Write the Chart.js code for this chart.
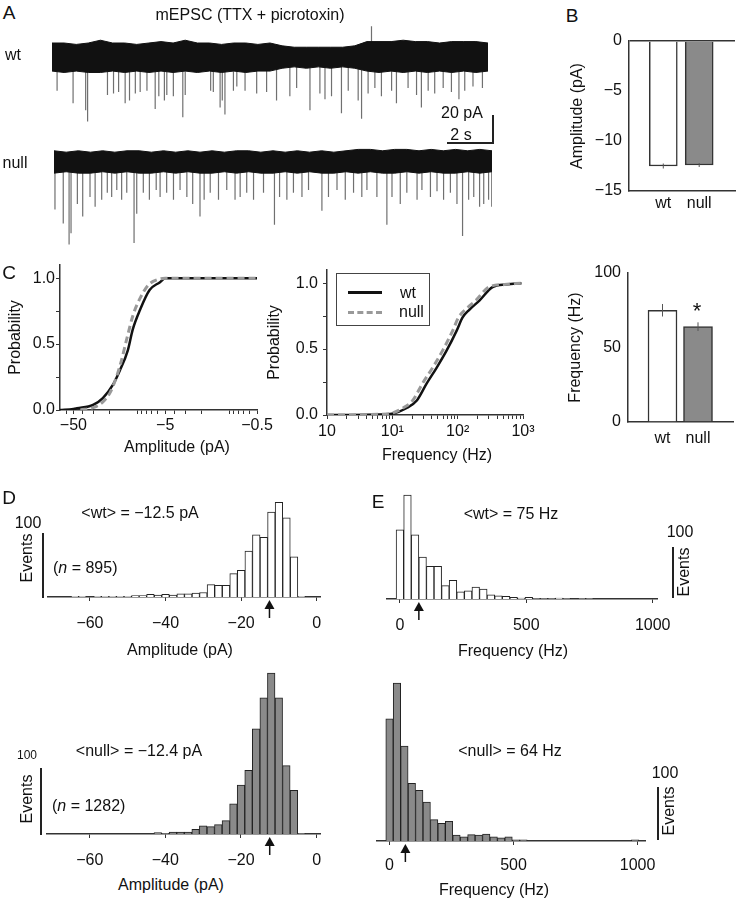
<!DOCTYPE html>
<html>
<head>
<meta charset="utf-8">
<title>mEPSC wt vs null</title>
<script src="https://cdn.jsdelivr.net/npm/chart.js@4.4.1/dist/chart.umd.min.js"></script>
<style>
  body { margin: 0; background: #fff; }
  #fig { position: relative; width: 736px; height: 900px; overflow: hidden;
         font-family: 'Liberation Sans', Arial, sans-serif; color: #111; }
  #fig canvas { position: absolute; }
  .t { position: absolute; font-size: 16px; line-height: 1; white-space: nowrap; transform: translate(-50%, -50%); }
  .lt { position: absolute; font-size: 16px; line-height: 1; white-space: nowrap; transform: translateY(-50%); }
  .rot { transform: translate(-50%, -50%) rotate(-90deg); }
  .panel { font-size: 19px; }
  .bar { position: absolute; background: #222; }
</style>
</head>
<body>
<div id="fig">
  <canvas id="traceWt" width="436" height="110" style="left:52px;top:20px"></canvas>
  <canvas id="traceNull" width="438" height="115" style="left:54px;top:135px"></canvas>
  <canvas id="ampBar" width="180" height="200" style="left:556px;top:30px"></canvas>
  <canvas id="ampCdf" width="290" height="210" style="left:0px;top:255px"></canvas>
  <canvas id="freqCdf" width="290" height="210" style="left:262px;top:255px"></canvas>
  <canvas id="freqBar" width="180" height="210" style="left:556px;top:255px"></canvas>
  <canvas id="ampHistWt" width="310" height="160" style="left:30px;top:485px"></canvas>
  <canvas id="ampHistNull" width="310" height="215" style="left:30px;top:660px"></canvas>
  <canvas id="freqHistWt" width="305" height="160" style="left:370px;top:485px"></canvas>
  <canvas id="freqHistNull" width="305" height="215" style="left:360px;top:670px"></canvas>

  <!-- panel letters -->
  <div class="t panel" style="left:9px;top:12px">A</div>
  <div class="t panel" style="left:572px;top:15px">B</div>
  <div class="t panel" style="left:9px;top:272px">C</div>
  <div class="t panel" style="left:9px;top:497px">D</div>
  <div class="t panel" style="left:378px;top:501px">E</div>

  <!-- A -->
  <div class="t" style="left:250px;top:15px">mEPSC (TTX + picrotoxin)</div>
  <div class="t" style="left:13px;top:55px">wt</div>
  <div class="t" style="left:15px;top:163px">null</div>
  <div class="t" style="left:462px;top:113px">20 pA</div>
  <div class="t" style="left:461px;top:135px">2 s</div>
  <div class="bar" style="left:492px;top:115px;width:2px;height:29px"></div>
  <div class="bar" style="left:447px;top:142px;width:47px;height:2px"></div>

  <!-- C legend + x titles -->
  <div style="position:absolute;left:336px;top:273px;width:94px;height:53px;border:1px solid #444;box-sizing:border-box"></div>
  <div style="position:absolute;left:348px;top:291px;width:34px;border-top:3px solid #111"></div>
  <div style="position:absolute;left:348px;top:311px;width:34px;border-top:3px dashed #999"></div>
  <div class="lt" style="left:400px;top:293px">wt</div>
  <div class="lt" style="left:399px;top:312px">null</div>
  <div class="t" style="left:177px;top:447px">Amplitude (pA)</div>
  <div class="t" style="left:437px;top:455px">Frequency (Hz)</div>
  <div class="t" style="left:697px;top:311px;font-size:22px">*</div>

  <!-- D -->
  <div class="t" style="left:140px;top:513px">&lt;wt&gt; = &minus;12.5 pA</div>
  <div class="t" style="left:28px;top:523px">100</div>
  <div class="t rot" style="left:27px;top:558px">Events</div>
  <div class="bar" style="left:42px;top:533px;width:1.5px;height:65px"></div>
  <div class="lt" style="left:53px;top:568px">(<i>n</i> = 895)</div>
  <div class="t" style="left:180px;top:650px">Amplitude (pA)</div>

  <div class="t" style="left:139px;top:751px">&lt;null&gt; = &minus;12.4 pA</div>
  <div class="t" style="left:27px;top:755px;font-size:12px">100</div>
  <div class="t rot" style="left:27px;top:799px">Events</div>
  <div class="bar" style="left:40px;top:768px;width:1.5px;height:67px"></div>
  <div class="lt" style="left:52px;top:806px">(<i>n</i> = 1282)</div>
  <div class="t" style="left:171px;top:885px">Amplitude (pA)</div>

  <!-- E -->
  <div class="t" style="left:511px;top:514px">&lt;wt&gt; = 75 Hz</div>
  <div class="t" style="left:680px;top:532px">100</div>
  <div class="t rot" style="left:684px;top:572px">Events</div>
  <div class="bar" style="left:672px;top:547px;width:1.5px;height:51px"></div>
  <div class="t" style="left:513px;top:651px">Frequency (Hz)</div>

  <div class="t" style="left:510px;top:751px">&lt;null&gt; = 64 Hz</div>
  <div class="t" style="left:665px;top:773px">100</div>
  <div class="t rot" style="left:669px;top:811px">Events</div>
  <div class="bar" style="left:657px;top:787px;width:1.5px;height:53px"></div>
  <div class="t" style="left:494px;top:890px">Frequency (Hz)</div>
</div>

<script>
Chart.defaults.font.family = "'Liberation Sans', Arial, sans-serif";
Chart.defaults.font.size = 16;
Chart.defaults.color = '#111';
Chart.defaults.animation = false;
Chart.defaults.responsive = false;
Chart.defaults.plugins.legend.display = false;
Chart.defaults.plugins.tooltip.enabled = false;

const AXIS = '#333';
const GRAY = '#8a8a8a';

// A: example traces (time in s, current in pA), noise envelope every 0.5 s
const traceT = [0, 0.5, 1, 1.5, 2, 2.5, 3, 3.5, 4, 4.5, 5, 5.5, 6, 6.5, 7, 7.5, 8, 8.5, 9, 9.5,
  10, 10.5, 11, 11.5, 12, 12.5, 13, 13.5, 14, 14.5, 15, 15.5, 16, 16.5, 17, 17.5, 18];
const wtTop = [10, 10, 9, 10, 12, 10, 10, 9, 10, 11, 10, 12, 10, 10, 9, 10, 10, 9, 10, 8,
  7, 7, 7, 7, 7, 8, 11, 11, 11, 12, 11, 11, 10, 11, 11, 11, 10];
const wtBot = [-10, -11, -10, -11, -11, -10, -11, -10, -11, -10, -11, -10, -11, -10, -11, -10, -11, -10, -10, -8,
  -7, -8, -7, -8, -7, -8, -10, -11, -10, -11, -10, -11, -10, -11, -10, -11, -10];
const nullTop = [8, 7, 8, 7, 8, 7, 8, 8, 7, 8, 7, 8, 7, 8, 7, 8, 8, 7, 8, 7,
  8, 7, 8, 7, 8, 9, 9, 8, 9, 9, 8, 9, 8, 9, 8, 9, 8];
const nullBot = [-8, -7, -8, -8, -7, -8, -7, -8, -8, -7, -8, -7, -8, -8, -7, -8, -7, -8, -8, -7,
  -8, -7, -8, -8, -7, -8, -7, -8, -8, -7, -8, -7, -8, -8, -7, -8, -7];

// A: individual events (time s, peak pA)
const wtEventT = [0.21, 0.87, 1.39, 1.47, 2.29, 2.54, 2.75, 3.02, 3.20, 3.44, 3.64, 3.92, 4.26, 4.41, 4.64,
  4.74, 5.01, 5.40, 5.50, 6.55, 6.66, 6.94, 7.03, 7.14, 7.49, 7.63, 7.97, 8.45, 8.86, 9.27,
  9.82, 10.10, 10.65, 11.06, 11.27, 11.54, 11.95, 12.23, 12.64, 12.78, 13.05, 13.19, 13.33, 13.60, 14.02,
  14.22, 14.70, 15.05, 15.25, 15.53, 15.80, 16.15, 16.49, 16.80, 17.04, 17.38, 17.77];
const wtEventA = [-24, -33, -38, -46, -27, -26, -25, -33, -31, -26, -25, -24, -37, -28, -31,
  -27, -28, -43, -27, -24, -25, -36, -31, -41, -24, -21, -24, -26, -25, -31,
  -28, -22, -38, -26, -30, -28, -40, -24, -31, -44, -26, 22, -22, -28, -24,
  -33, -22, -27, -36, -24, -26, -22, -25, -30, -24, -21, -22];
const nullEventT = [0.04, 0.38, 0.62, 0.70, 0.96, 1.18, 1.48, 1.69, 1.96, 2.19, 2.37, 2.58, 2.78, 2.99, 3.29,
  3.40, 3.67, 3.92, 4.20, 4.36, 4.63, 4.91, 5.18, 5.46, 5.70, 6.00, 6.17, 6.42, 6.76, 7.10,
  7.44, 7.65, 7.92, 8.20, 8.61, 9.06, 9.27, 9.57, 9.84, 10.19, 10.46, 11.01, 11.28, 11.63, 11.97,
  12.31, 12.65, 12.86, 13.27, 13.68, 13.89, 14.23, 14.50, 14.92, 15.12, 15.47, 15.74, 16.01, 16.29, 16.56,
  16.79, 17.04, 17.25, 17.49, 17.66, 17.86, 17.99];
const nullEventA = [-34, -44, -59, -51, -30, -39, -25, -32, -27, -22, -25, -20, -27, -22, -58,
  -37, -22, -27, -20, -25, -22, -27, -20, -25, -30, -39, -27, -22, -27, -20,
  -27, -25, -22, -27, -22, -45, -25, -27, -22, -25, -20, -35, -25, -20, -27,
  -22, -25, -20, -25, -45, -25, -30, -22, -27, -20, -25, -21, -27, -22, -30,
  -53, -27, -25, -32, -30, -27, -32];

// B and C (right): group means with error
const groups = ['wt', 'null'];
const ampMean = [-12.5, -12.4];
const ampErr = [0.25, 0.2];
const freqMean = [75, 64];
const freqErr = [4.2, 2.9];

// C: cumulative probability
const wtAmpX = [-70, -50, -45.7, -30.6, -23.9, -18.6, -15.6, -12.8, -11.3, -9.4, -7.4, -5.7, -5.0, -0.5];
const wtAmpP = [0, 0.008, 0.013, 0.038, 0.09, 0.19, 0.30, 0.45, 0.61, 0.76, 0.91, 0.97, 1.0, 1.0];
const nullAmpX = [-42, -30, -24, -20, -17, -15.2, -13, -11.2, -9.2, -7.6, -6.0, -5.0, -0.5];
const nullAmpP = [0, 0.02, 0.06, 0.13, 0.25, 0.36, 0.55, 0.72, 0.86, 0.95, 0.99, 1.0, 1.0];
const wtFreqX = [1, 9.2, 16.6, 23.7, 33.6, 47.8, 67.9, 96.6, 119, 152, 217, 342, 560, 948];
const wtFreqP = [0, 0.008, 0.053, 0.11, 0.24, 0.36, 0.49, 0.64, 0.74, 0.80, 0.87, 0.97, 0.99, 1.0];
const nullFreqX = [1, 8.5, 14.5, 20.5, 29, 41.5, 59, 84, 103, 132, 190, 300, 520, 940];
const nullFreqP = [0, 0.008, 0.053, 0.11, 0.24, 0.36, 0.49, 0.64, 0.74, 0.80, 0.87, 0.97, 0.99, 1.0];

// D: amplitude histograms (2 pA bins)
const ampBins = [-4, -6, -8, -10, -12, -14, -16, -18, -20, -22, -24, -26, -28, -30, -32, -34,
  -36, -38, -40, -42, -44, -46, -48, -50, -52, -54, -56, -58, -60, -62, -64, -66];
const wtAmpCounts = [1, 62, 122, 146, 131, 92, 96, 71, 41, 36, 18, 18, 19, 7, 6, 5,
  5, 3, 4, 3, 4, 2, 2, 1, 1, 1, 1, 1, 0, 1, 1, 0];
const nullAmpCounts = [1, 65, 102, 203, 240, 203, 157, 95, 73, 45, 20, 14, 11, 12, 7, 3,
  3, 3, 1, 2, 0, 0, 0, 0, 0, 0, 0, 0, 0, 0, 0, 0];

// E: frequency histograms (30 Hz bins)
const wtFreqBins = [0, 30, 60, 90, 120, 150, 180, 210, 240, 270, 300, 330, 360, 390, 420, 450,
  480, 510, 540, 570, 600, 630, 660, 690, 720, 750];
const wtFreqCounts = [134, 201, 124, 81, 63, 63, 26, 36, 14, 16, 23, 19, 8, 6, 5, 3,
  2, 3, 1, 1, 1, 2, 1, 0, 1, 1];
const nullFreqBins = [0, 30, 60, 90, 120, 150, 180, 210, 240, 270, 300, 330, 360, 390, 420, 450,
  480, 510, 540, 990];
const nullFreqCounts = [229, 296, 178, 108, 95, 73, 40, 33, 37, 11, 8, 12, 11, 13, 8, 6,
  8, 2, 2, 2];

const minus = v => (v < 0 ? '\u2212' + Math.abs(v) : String(v));
const fixW = w => s => { s.width = w; s.paddingTop = 0; s.paddingBottom = 0; };
const fixH = h => s => { s.height = h; s.paddingLeft = 0; s.paddingRight = 0; };
const setTicks = vals => s => { s.ticks = vals.map(v => ({ value: v })); };

const errorBars = {
  id: 'errorBars',
  afterDatasetsDraw(chart, args, opts) {
    const { ctx } = chart;
    const y = chart.scales.y;
    const ds = chart.data.datasets[0];
    ctx.save();
    ctx.strokeStyle = '#555';
    ctx.lineWidth = 1;
    chart.getDatasetMeta(0).data.forEach((bar, i) => {
      const v = ds.data[i].y;
      ctx.beginPath();
      ctx.moveTo(bar.x, y.getPixelForValue(v - opts.errors[i]));
      ctx.lineTo(bar.x, y.getPixelForValue(v + opts.errors[i]));
      ctx.stroke();
    });
    ctx.restore();
  }
};

const meanArrow = {
  id: 'meanArrow',
  afterDraw(chart, args, opts) {
    const { ctx } = chart;
    const x = chart.scales.x.getPixelForValue(opts.value);
    const y0 = chart.chartArea.bottom + 3;
    ctx.save();
    ctx.fillStyle = '#111';
    ctx.beginPath();
    ctx.moveTo(x, y0);
    ctx.lineTo(x - 5, y0 + 9);
    ctx.lineTo(x + 5, y0 + 9);
    ctx.closePath();
    ctx.fill();
    ctx.strokeStyle = '#111';
    ctx.lineWidth = 1.5;
    ctx.beginPath();
    ctx.moveTo(x, y0 + 8);
    ctx.lineTo(x, y0 + 18);
    ctx.stroke();
    ctx.restore();
  }
};

function traceChart(id, top, bot, evT, evA, yMin, yMax) {
  const events = evT.flatMap((t, i) => [{ x: t, y: 0 }, { x: t, y: evA[i] }, { x: t, y: null }]);
  return new Chart(document.getElementById(id), {
    type: 'line',
    data: {
      datasets: [
        { data: traceT.map((t, i) => ({ x: t, y: top[i] })), borderColor: '#111', borderWidth: 1,
          pointRadius: 0, fill: false, order: 1 },
        { data: traceT.map((t, i) => ({ x: t, y: bot[i] })), borderColor: '#111', borderWidth: 1,
          pointRadius: 0, fill: '-1', backgroundColor: '#111', order: 1 },
        { data: events, borderColor: '#707070', borderWidth: 1.2, pointRadius: 0,
          spanGaps: false, order: 2 }
      ]
    },
    options: {
      scales: {
        x: { type: 'linear', min: 0, max: 18, display: false },
        y: { min: yMin, max: yMax, display: false }
      }
    }
  });
}

traceChart('traceWt', wtTop, wtBot, wtEventT, wtEventA, -52, 26.4);
traceChart('traceNull', nullTop, nullBot, nullEventT, nullEventA, -63, 19.3);

function meanBar(id, values, errs, opt) {
  return new Chart(document.getElementById(id), {
    type: 'bar',
    data: {
      datasets: [{
        data: values.map((v, i) => ({ x: i + 1, y: v })),
        backgroundColor: ['#ffffff', GRAY],
        borderColor: '#333',
        borderWidth: 1.5,
        barThickness: opt.thick
      }]
    },
    options: {
      layout: { padding: opt.pad },
      scales: {
        x: {
          type: 'linear', min: opt.xMin, max: opt.xMax, offset: false,
          afterBuildTicks: setTicks([1, 2]), afterFit: fixH(35),
          grid: { offset: false, drawOnChartArea: false, drawTicks: false },
          border: { color: AXIS, width: 1.5 },
          ticks: { padding: opt.xPad, callback: v => groups[v - 1] }
        },
        y: {
          min: opt.yMin, max: opt.yMax,
          afterBuildTicks: setTicks(opt.yTicks), afterFit: fixW(opt.yWidth),
          grid: { drawTicks: false, lineWidth: 1.5,
                  color: c => (opt.zeroLine && c.tick && c.tick.value === 0 ? AXIS : 'rgba(0,0,0,0)') },
          border: { color: AXIS, width: 1.5 },
          ticks: { padding: 7, callback: minus },
          title: { display: true, text: opt.title, padding: { top: opt.titlePad, bottom: 0 } }
        }
      },
      plugins: { errorBars: { errors: errs } }
    },
    plugins: [errorBars]
  });
}

meanBar('ampBar', ampMean, ampErr, {
  thick: 28, pad: { left: 4, right: 1, top: 11, bottom: 4 },
  xMin: 0.045, xMax: 2.997, xPad: 3,
  yMin: -15, yMax: 0, yTicks: [-15, -10, -5, 0], yWidth: 69, zeroLine: true,
  title: 'Amplitude (pA)', titlePad: 8
});

meanBar('freqBar', freqMean, freqErr, {
  thick: 29, pad: { left: 4, right: 3, top: 18, bottom: 8 },
  xMin: 0.028, xMax: 2.986, xPad: 7,
  yMin: 0, yMax: 100, yTicks: [0, 50, 100], yWidth: 68, zeroLine: false,
  title: 'Frequency (Hz)', titlePad: 6
});

function cdfChart(id, wtX, wtP, nullX, nullP, xScale, opt) {
  return new Chart(document.getElementById(id), {
    type: 'line',
    data: {
      datasets: [
        { data: wtX.map((x, i) => ({ x: Math.abs(x), y: wtP[i] })), borderColor: '#111',
          borderWidth: 2.5, pointRadius: 0, cubicInterpolationMode: 'monotone', order: 2 },
        { data: nullX.map((x, i) => ({ x: Math.abs(x), y: nullP[i] })), borderColor: '#999',
          borderWidth: 3, borderDash: [7, 4], pointRadius: 0, cubicInterpolationMode: 'monotone', order: 1 }
      ]
    },
    options: {
      layout: { padding: opt.pad },
      scales: {
        x: Object.assign({
          type: 'logarithmic', afterFit: fixH(40),
          grid: { drawOnChartArea: false, tickLength: 4, color: AXIS },
          border: { color: AXIS, width: 1.5 }
        }, xScale),
        y: {
          min: 0, max: 1.1,
          afterBuildTicks: setTicks([0, 0.25, 0.5, 0.75, 1]), afterFit: fixW(opt.yWidth),
          grid: { drawOnChartArea: false, tickLength: 4, color: AXIS },
          border: { color: AXIS, width: 1.5 },
          ticks: { padding: opt.yPad, callback: v => (v === 0 || v === 0.5 || v === 1 ? v.toFixed(1) : '') },
          title: { display: true, text: 'Probability', padding: { top: opt.titlePad, bottom: 0 } }
        }
      }
    }
  });
}

const ampTicks = [60, 50, 40, 30, 20, 10, 9, 8, 7, 6, 5, 4, 3, 2, 1, 0.9, 0.8, 0.7, 0.6, 0.5];
cdfChart('ampCdf', wtAmpX, wtAmpP, nullAmpX, nullAmpP, {
  reverse: true, min: 0.5, max: 70,
  afterBuildTicks: setTicks(ampTicks),
  ticks: { autoSkip: false, maxRotation: 0, padding: 2,
           callback: v => (v === 50 || v === 5 || v === 0.5 ? '\u2212' + v : '') }
}, { pad: { left: 0, right: 33, top: 10, bottom: 15 }, yWidth: 60, yPad: 1, titlePad: 6 });

const freqTicks = [1, 2, 3, 4, 5, 6, 7, 8, 9, 10, 20, 30, 40, 50, 60, 70, 80, 90,
  100, 200, 300, 400, 500, 600, 700, 800, 900, 1000];
const freqTickText = { 1: '10', 10: '10\u00B9', 100: '10\u00B2', 1000: '10\u00B3' };
cdfChart('freqCdf', wtFreqX, wtFreqP, nullFreqX, nullFreqP, {
  min: 1, max: 1000,
  afterBuildTicks: setTicks(freqTicks),
  ticks: { autoSkip: false, maxRotation: 0, padding: 3, callback: v => freqTickText[v] || '' }
}, { pad: { left: 3, right: 29, top: 15, bottom: 10 }, yWidth: 62, yPad: 5, titlePad: 0 });

function histChart(id, bins, counts, fill, opt) {
  return new Chart(document.getElementById(id), {
    type: 'bar',
    data: {
      datasets: [{
        data: bins.map((b, i) => ({ x: b, y: counts[i] })),
        backgroundColor: fill,
        borderColor: '#222',
        borderWidth: 1,
        barPercentage: 1,
        categoryPercentage: 1
      }]
    },
    options: {
      layout: { padding: opt.pad },
      scales: {
        x: {
          type: 'linear', min: opt.xMin, max: opt.xMax, offset: false,
          afterBuildTicks: setTicks(opt.xTicks), afterFit: fixH(40),
          grid: { offset: false, drawOnChartArea: false, tickLength: 4, color: AXIS },
          border: { color: AXIS, width: 1.5 },
          ticks: { padding: opt.labelPad, autoSkip: false, maxRotation: 0, callback: minus }
        },
        y: { display: false, min: 0, max: opt.yMax }
      },
      plugins: { meanArrow: { value: opt.mean } }
    },
    plugins: [meanArrow]
  });
}

histChart('ampHistWt', ampBins, wtAmpCounts, '#ffffff', {
  pad: { left: 18, right: 20, top: 5, bottom: 8 }, xMin: -71.1, xMax: 0.87,
  xTicks: [-60, -40, -20, 0], yMax: 165, mean: ampMean[0], labelPad: 13
});
histChart('ampHistNull', ampBins, nullAmpCounts, GRAY, {
  pad: { left: 17, right: 20, top: 5, bottom: 1 }, xMin: -71.3, xMax: 0.9,
  xTicks: [-60, -40, -20, 0], yMax: 252, mean: ampMean[1], labelPad: 13
});
histChart('freqHistWt', wtFreqBins, wtFreqCounts, '#ffffff', {
  pad: { left: 17, right: 18, top: 5, bottom: 6 }, xMin: -51, xMax: 1017,
  xTicks: [0, 500, 1000], yMax: 211, mean: freqMean[0], labelPad: 13
});
histChart('freqHistNull', nullFreqBins, nullFreqCounts, GRAY, {
  pad: { left: 17, right: 20, top: 5, bottom: 4 }, xMin: -50.4, xMax: 1030,
  xTicks: [0, 500, 1000], yMax: 311, mean: freqMean[1], labelPad: 11
});
</script>
</body>
</html>
